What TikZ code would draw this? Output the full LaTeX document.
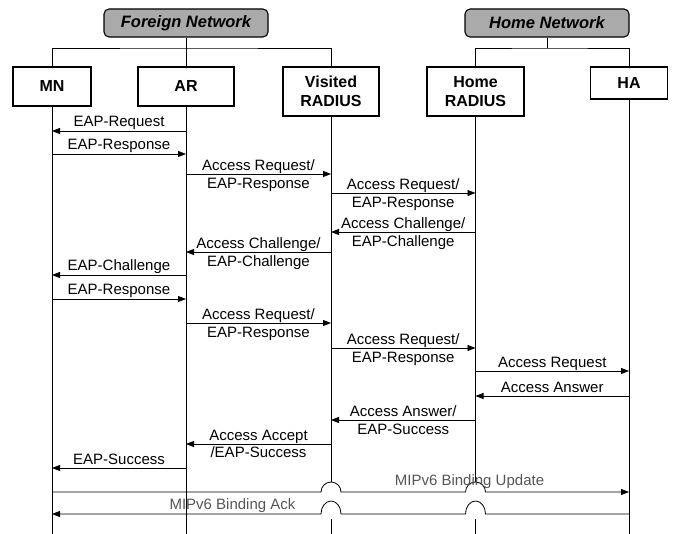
\documentclass[tikz,border=0pt]{standalone}
\usepackage{fontspec}
\setmainfont{Liberation Sans}
\usetikzlibrary{arrows.meta}
\definecolor{titlegray}{RGB}{170,170,170}
\definecolor{mipgray}{RGB}{85,85,85}
\begin{document}
\begin{tikzpicture}[x=1pt,y=-1pt,
  entity/.style={draw, line width=1.1pt, fill=white, inner sep=0pt, align=center,
    font=\bfseries\fontsize{16}{19}\selectfont},
  netbox/.style={draw, line width=1.1pt, fill=titlegray, rounded corners=5pt,
    minimum width=164pt, minimum height=28pt, inner sep=0pt,
    font=\bfseries\itshape\fontsize{16.5}{19}\selectfont},
  life/.style={line width=0.8pt},
  msg/.style={line width=0.8pt, -{Triangle[length=8pt,width=6pt]}},
  lab/.style={anchor=base, yshift=4pt, inner sep=0pt, font=\fontsize{15}{17.5}\selectfont},
  labtwo/.style={anchor=north, yshift=14.5pt, inner sep=0pt, align=center,
    font=\fontsize{15}{17.5}\selectfont},
  miplab/.style={anchor=base, inner sep=0pt, text=mipgray, font=\fontsize{15}{17.5}\selectfont}
]
\useasboundingbox (0,0) rectangle (674,534);

% network title boxes
\node[netbox] (fn) at (186,23) {Foreign Network};
\node[netbox] (hn) at (547,23) {Home Network};

% entities
\node[entity, minimum width=78pt, minimum height=39pt] (mn) at (52,86.5) {MN};
\node[entity, minimum width=96pt, minimum height=39pt] (ar) at (186,86.5) {AR};
\node[entity, minimum width=96pt, minimum height=49pt] (vr) at (331,91.5) {Visited\\RADIUS};
\node[entity, minimum width=97pt, minimum height=49pt] (hr) at (475.5,91.5) {Home\\RADIUS};
\node[entity, minimum width=77pt, minimum height=32pt] (ha) at (629,83) {HA};

% tree connectors
\coordinate (fj) at (186,48);
\coordinate (hj) at (547,48);
\draw[life] (fn.south) -- (ar.north);
\draw[life] (mn.north) |- (fj) -| (vr.north);
\draw[life] (hn.south) -- (hj);
\draw[life] (hr.north) |- (hj) -| (ha.north);

% lifelines
\draw[life] (mn.south) -- (mn.south |- 0,534);
\draw[life] (ar.south) -- (ar.south |- 0,534);
\draw[life] (vr.south) -- (vr.south |- 0,482);
\draw[life] (vr.south |- 0,519) -- (vr.south |- 0,534);
\draw[life] (hr.south) -- (hr.south |- 0,482);
\draw[life] (hr.south |- 0,519) -- (hr.south |- 0,534);
\draw[life] (ha.south) -- (ha.south |- 0,534);

% messages
\draw[msg] (ar |- 0,131) -- node[lab] (l1) {EAP-Request} (mn |- 0,131);
\draw[msg] (mn |- 0,154) -- node[lab] (l2) {EAP-Response} (ar |- 0,154);
\draw[msg] (ar |- 0,174) -- node[labtwo] (l3) {Access Request/\\EAP-Response} (vr |- 0,174);
\draw[msg] (vr |- 0,193) -- node[labtwo] (l4) {Access Request/\\EAP-Response} (hr |- 0,193);
\draw[msg] (hr |- 0,232) -- node[labtwo] (l5) {Access Challenge/\\EAP-Challenge} (vr |- 0,232);
\draw[msg] (vr |- 0,252) -- node[labtwo] (l6) {Access Challenge/\\EAP-Challenge} (ar |- 0,252);
\draw[msg] (ar |- 0,275) -- node[lab] (l7) {EAP-Challenge} (mn |- 0,275);
\draw[msg] (mn |- 0,299) -- node[lab] (l8) {EAP-Response} (ar |- 0,299);
\draw[msg] (ar |- 0,323) -- node[labtwo] (l9) {Access Request/\\EAP-Response} (vr |- 0,323);
\draw[msg] (vr |- 0,348) -- node[labtwo] (l10) {Access Request/\\EAP-Response} (hr |- 0,348);
\draw[msg] (hr |- 0,371) -- node[lab] (l11) {Access Request} (ha |- 0,371);
\draw[msg] (ha |- 0,396) -- node[lab] (l12) {Access Answer} (hr |- 0,396);
\draw[msg] (hr |- 0,420) -- node[labtwo] (l13) {Access Answer/\\EAP-Success} (vr |- 0,420);
\draw[msg] (vr |- 0,444) -- node[labtwo] (l14) {Access Accept\\/EAP-Success} (ar |- 0,444);
\draw[msg] (ar |- 0,468) -- node[lab] (l15) {EAP-Success} (mn |- 0,468);

% MIPv6 binding update / ack with line jumps
\draw[msg] (mn |- 0,492) -- (321,492)
  arc[start angle=180, end angle=0, radius=10pt] -- (465.5,492)
  arc[start angle=180, end angle=0, radius=10pt] -- (ha |- 0,492);
\node[miplab] (l16) at (469.5,485) {MIPv6 Binding Update};
\draw[msg] (ha |- 0,514) -- (485.5,514)
  arc[start angle=0, end angle=180, x radius=10pt, y radius=13pt] -- (341,514)
  arc[start angle=0, end angle=180, x radius=10pt, y radius=13pt] -- (mn |- 0,514);
\node[miplab] (l17) at (232.5,509) {MIPv6 Binding Ack};
\end{tikzpicture}
\end{document}
